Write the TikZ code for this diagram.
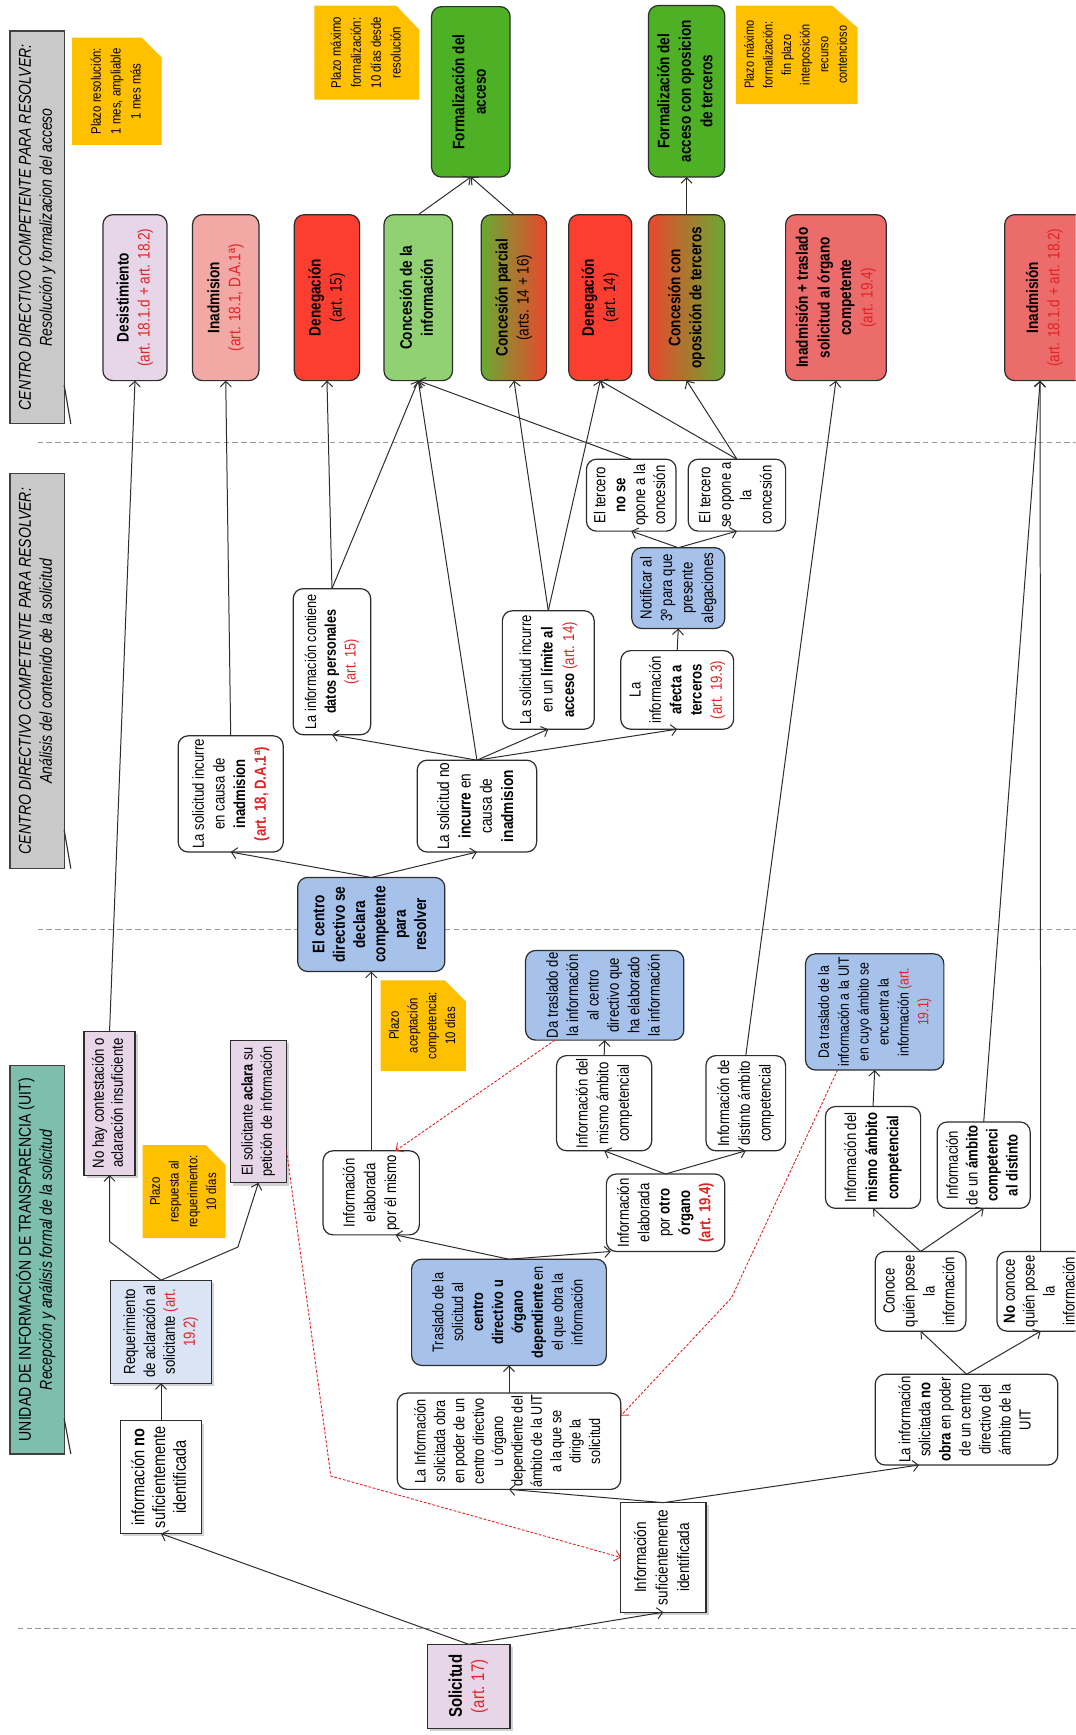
\documentclass[tikz,border=0pt]{standalone}
\usepackage{fontspec}
\setmainfont[FakeStretch=0.82]{Liberation Sans}
\usepackage{graphicx}
\usetikzlibrary{arrows.meta,fit,shadows,calc}
\definecolor{hdrgray}{RGB}{201,201,201}
\definecolor{hdrteal}{RGB}{125,190,172}
\definecolor{noteyel}{RGB}{255,192,0}
\definecolor{dkgreen}{RGB}{78,176,36}
\definecolor{ltgreen}{RGB}{145,208,115}
\definecolor{brred}{RGB}{252,62,48}
\definecolor{pinkbox}{RGB}{242,168,165}
\definecolor{lavbox}{RGB}{231,214,232}
\definecolor{salmon}{RGB}{236,108,108}
\definecolor{bluebox}{RGB}{166,194,234}
\definecolor{ltblue}{RGB}{218,228,245}
\definecolor{artred}{RGB}{225,35,35}
\definecolor{edge}{RGB}{45,45,45}
\definecolor{olivegreen}{RGB}{105,170,50}
\definecolor{gradred}{RGB}{235,70,45}
\newcommand{\rt}[3]{\rotatebox{90}{\fontsize{#1}{#2}\selectfont\begin{tabular}{@{}c@{}}#3\end{tabular}}}
\newcommand{\artx}[1]{\textcolor{artred}{#1}}
% box with text: style, name, corner, corner, text
\newcommand{\bx}[5]{\node[#1, fit={#3 #4}] (#2) {};\node[inner sep=0pt] (#2t) at (#2.center) {#5};}
\tikzset{
  base/.style={draw=edge, line width=1.1pt, inner sep=0pt, outer sep=0pt},
  rbox/.style={base, rounded corners=9pt, fill=white},
  fbox/.style={base, rounded corners=9pt},
  sbox/.style={base, drop shadow={opacity=0.35,shadow xshift=2.5pt,shadow yshift=-2.5pt}},
  hdr/.style={draw=black!75, line width=1pt, inner sep=0pt, outer sep=0pt},
  conn/.style={draw=edge, line width=0.9pt, -{Straight Barb[length=5pt,width=10pt]}},
  redconn/.style={draw=artred, line width=0.8pt, dash pattern=on 2.5pt off 1.5pt, -{Straight Barb[length=5pt,width=10pt]}},
  sep/.style={draw=black!40, line width=0.8pt, dash pattern=on 5pt off 3pt},
  note/.style={fill=noteyel, draw=none},
  tail/.style={draw=edge, line width=1pt}
}
\begin{document}
\begin{tikzpicture}[x=1pt,y=-1pt]
\useasboundingbox (0,0) rectangle (972,1568);
\fill[white] (0,0) rectangle (972,1568);
\clip (0,0) rectangle (972,1568);

% separators
\coordinate (s1a) at (34,400); \coordinate (s1b) at (972,400);
\coordinate (s2a) at (34,840); \coordinate (s2b) at (972,840);
\coordinate (s3a) at (16,1472); \coordinate (s3b) at (972,1472);
\draw[sep] (s1a) -- (s1b);
\draw[sep] (s2a) -- (s2b);
\draw[sep] (s3a) -- (s3b);

% headers
\bx{hdr, fill=hdrgray}{H3}{(9,28)}{(58,383)}{\rt{15.5}{19}{\textit{CENTRO DIRECTIVO COMPETENTE PARA RESOLVER:}\\\textit{Resolución y formalizacion del acceso}}}
\bx{hdr, fill=hdrgray}{H2}{(9,428)}{(58,785)}{\rt{15.5}{19}{\textit{CENTRO DIRECTIVO COMPETENTE PARA RESOLVER:}\\\textit{Análisis del contenido de la solicitud}}}
\bx{hdr, fill=hdrteal}{H1}{(9,963)}{(58,1314)}{\rt{15.5}{19}{UNIDAD DE INFORMACIÓN DE TRANSPARENCIA (UIT)\\\textit{Recepción y análisis formal de la solicitud}}}
\coordinate (t3a) at (58,348); \coordinate (t3b) at (64,383);
\coordinate (t2a) at (58,750); \coordinate (t2b) at (64,785);
\coordinate (t1a) at (58,1282); \coordinate (t1b) at (64,1314);
\draw[tail] (t3a) -- (t3b);
\draw[tail] (t2a) -- (t2b);
\draw[tail] (t1a) -- (t1b);

% notes
\fill[note] (65,34) -- (128,34) -- (146,52) -- (146,131) -- (65,131) -- cycle;
\node (NA) at (105.5,82.5) {\rt{12.5}{18}{Plazo resolución:\\1 mes, ampliable\\1 mes más}};
\fill[note] (284,5) -- (358,5) -- (379,27) -- (379,90) -- (284,90) -- cycle;
\node (NB) at (331.5,47.5) {\rt{12.5}{18}{Plazo máximo\\formalización:\\10 días desde\\resolución}};
\fill[note] (665,5) -- (752,5) -- (775,25) -- (775,94) -- (665,94) -- cycle;
\node (NC) at (720,49.5) {\rt{12}{16.8}{Plazo máximo\\formalización:\\fin plazo\\interposición\\recurso\\contencioso}};
\fill[note] (129,1035) -- (186,1035) -- (204,1053) -- (204,1119) -- (129,1119) -- cycle;
\node (ND) at (166.5,1077) {\rt{12.5}{17}{Plazo\\respuesta al\\requerimiento:\\10 días}};
\fill[note] (344,886) -- (402,886) -- (421,905) -- (421,968) -- (344,968) -- cycle;
\node (NE) at (382.5,927) {\rt{12.5}{17}{Plazo\\aceptación\\competencia:\\10 días}};

% top: formalization
\bx{fbox, fill=dkgreen}{FA}{(390,6)}{(461,160)}{\rt{15}{19.5}{\textbf{Formalización del}\\\textbf{acceso}}}
\bx{fbox, fill=dkgreen}{FO}{(586,5)}{(655,160)}{\rt{15}{19.5}{\textbf{Formalización del}\\\textbf{acceso con oposicion}\\\textbf{de terceros}}}

% outcomes
\bx{fbox, fill=lavbox}{O1}{(93,194)}{(151,344)}{\rt{15}{19}{\textbf{Desistimiento}\\\artx{(art. 18.1.d + art. 18.2)}}}
\bx{fbox, fill=pinkbox}{O2}{(174,194)}{(234,344)}{\rt{15}{19}{\textbf{Inadmision}\\\artx{(art. 18.1, D.A.1ª)}}}
\bx{fbox, fill=brred}{O3}{(266,194)}{(325,344)}{\rt{15}{19}{\textbf{Denegación}\\(art. 15)}}
\bx{fbox, fill=ltgreen}{O4}{(347,194)}{(409,344)}{\rt{15}{19}{\textbf{Concesión de la}\\\textbf{información}}}
\bx{fbox, left color=olivegreen, right color=gradred}{O5}{(435,194)}{(494,344)}{\rt{15}{19}{\textbf{Concesión parcial}\\(arts. 14 + 16)}}
\bx{fbox, fill=brred}{O6}{(514,194)}{(571,344)}{\rt{15}{19}{\textbf{Denegación}\\(art. 14)}}
\bx{fbox, left color=gradred, right color=olivegreen}{O7}{(586,194)}{(655,344)}{\rt{15}{19}{\textbf{Concesión con}\\\textbf{oposición de terceros}}}
\bx{fbox, fill=salmon}{O8}{(710,194)}{(801,344)}{\rt{15}{19.5}{\textbf{Inadmisión + traslado}\\\textbf{solicitud al órgano}\\\textbf{competente}\\\artx{(art. 19.4)}}}
\bx{fbox, fill=salmon}{O9}{(908,194)}{(980,344)}{\rt{15}{19}{\textbf{Inadmisión}\\\artx{(art. 18.1.d + art. 18.2)}}}

% analysis column
\bx{rbox}{C1}{(161,665)}{(256,770)}{\rt{14.5}{18.7}{La solicitud incurre\\en causa de\\\textbf{inadmision}\\\artx{\textbf{(art. 18, D.A.1ª)}}}}
\bx{rbox}{C2}{(377,687)}{(485,770)}{\rt{15}{19.3}{La solicitud no\\\textbf{incurre} en\\causa de\\\textbf{inadmision}}}
\bx{rbox}{C3}{(265,532)}{(335,664)}{\rt{14}{17.8}{La información contiene\\\textbf{datos personales}\\\artx{(art. 15)}}}
\bx{rbox}{C4}{(454,552)}{(537,659)}{\rt{14.5}{19.5}{La solicitud incurre\\en un \textbf{límite al}\\\textbf{acceso} \artx{(art. 14)}}}
\bx{rbox}{C5}{(561,588)}{(663,659)}{\rt{14.5}{18.4}{La\\información\\\textbf{afecta a}\\\textbf{terceros}\\\artx{(art. 19.3)}}}
\bx{fbox, fill=bluebox}{C6}{(571,495)}{(655,568)}{\rt{14.5}{18.5}{Notificar al\\3º para que\\presente\\alegaciones}}
\bx{rbox}{C7}{(530,415)}{(611,480)}{\rt{14.5}{18}{El tercero\\\textbf{no se}\\opone a la\\concesión}}
\bx{rbox}{C8}{(622,415)}{(710,480)}{\rt{14.5}{18.5}{El tercero\\se opone a\\la\\concesión}}

% UIT column
\bx{fbox, fill=bluebox}{B1}{(269,793)}{(402,878)}{\rt{15}{18.4}{\textbf{El centro}\\\textbf{directivo se}\\\textbf{declara}\\\textbf{competente}\\\textbf{para}\\\textbf{resolver}}}
\bx{fbox, fill=bluebox}{B2}{(475,859)}{(618,940)}{\rt{14.5}{18.4}{Da traslado de\\la información\\al centro\\directivo que\\ha elaborado\\la información}}
\bx{rbox}{B3}{(503,954)}{(589,1040)}{\rt{14.5}{18.7}{Información del\\mismo ámbito\\competencial}}
\bx{rbox}{B4}{(638,954)}{(710,1040)}{\rt{14.5}{18.7}{Información de\\distinto ámbito\\competencial}}
\bx{rbox}{B5}{(292,1040)}{(379,1116)}{\rt{14.5}{18.7}{Información\\elaborada\\por él mismo}}
\bx{rbox}{B6}{(548,1061)}{(655,1131)}{\rt{14.5}{18.4}{Información\\elaborada\\por \textbf{otro}\\\textbf{órgano}\\\artx{\textbf{(art. 19.4)}}}}
\bx{fbox, fill=bluebox}{B7}{(372,1138)}{(548,1234)}{\rt{14}{18}{Traslado de la\\solicitud al\\\textbf{centro}\\\textbf{directivo u}\\\textbf{órgano}\\\textbf{dependiente} en\\el que obra la\\información}}
\bx{rbox}{B8}{(359,1259)}{(561,1346)}{\rt{14}{17.5}{La Información\\solicitada obra\\en poder de un\\centro directivo\\u órgano\\dependiente del\\ámbito de la UIT\\a la que se\\dirige la\\solicitud}}
\bx{sbox, fill=white}{B9}{(561,1358)}{(638,1457)}{\rt{15}{19.4}{Información\\suficientemente\\identificada}}
\bx{rbox}{B10}{(791,1242)}{(956,1324)}{\rt{14.5}{18.1}{La información\\solicitada \textbf{no}\\\textbf{obra} en poder\\de un centro\\directivo del\\ámbito de la\\UIT}}
\bx{rbox}{B11}{(791,1131)}{(873,1203)}{\rt{14.5}{18}{Conoce\\quién posee\\la\\información}}
\bx{rbox}{B12}{(901,1131)}{(980,1203)}{\rt{14.5}{18}{\textbf{No} conoce\\quién posee\\la\\información}}
\bx{rbox}{B13}{(746,1000)}{(832,1092)}{\rt{14.5}{19}{Información del\\\textbf{mismo ámbito}\\\textbf{competencial}}}
\bx{rbox}{B14}{(847,1014)}{(931,1092)}{\rt{14.5}{18}{Información\\de un \textbf{ámbito}\\\textbf{competenci}\\\textbf{al distinto}}}
\bx{fbox, fill=bluebox}{B15}{(728,862)}{(853,967)}{\rt{13.5}{18}{Da traslado de la\\información a la UIT\\en cuyo ámbito se\\encuentra la\\información \artx{(art.}\\\artx{19.1)}}}

% left column
\bx{sbox, fill=lavbox}{L1}{(76,932)}{(122,1062)}{\rt{14.5}{17.2}{No hay contestación o\\aclaración insuficiente}}
\bx{sbox, fill=lavbox}{L2}{(208,940)}{(259,1069)}{\rt{14}{17.5}{El solicitante \textbf{aclara} su\\petición de información}}
\bx{sbox, fill=ltblue}{L3}{(100,1157)}{(191,1250)}{\rt{14.5}{18}{Requerimiento\\de aclaración al\\solicitante \artx{(art.}\\\artx{19.2)}}}
\bx{sbox, fill=white}{L4}{(109,1284)}{(182,1386)}{\rt{16}{18.7}{información \textbf{no}\\suficientemente\\identificada}}
\bx{sbox, fill=lavbox}{L5}{(386,1486)}{(461,1562)}{\rt{16.5}{20}{\textbf{Solicitud}\\\artx{(art. 17)}}}

% connectors
\draw[conn] (L5.north) -- (L4.south);
\draw[conn] (L5.north) -- (B9.south);
\draw[conn] (L4.north) -- (L3.south);
\coordinate (k1) at (99,1122);
\coordinate (k2) at (215,1127);
\draw[conn] (L3.north) -- (k1) -- (L1.south);
\draw[conn] (L3.north) -- (k2) -- (L2.south);
\draw[conn] (L1.north) -- (O1.south);
\coordinate (r1) at (299,1334);
\draw[redconn] ($(L2.south east)+(0,-29)$) -- (r1) -- (B9.west);
\draw[conn] (B9.north) -- (B8.south);
\draw[conn] (B9.north) -- ($(B10.south)+(-43,0)$);
\draw[conn] (B8.north) -- (B7.south);
\draw[conn] (B7.north) -- ($(B5.south)+(22,0)$);
\draw[conn] (B7.north) -- ($(B6.south west)+(4,0)$);
\draw[conn] (B6.north) -- (B3.south);
\draw[conn] (B6.north) -- (B4.south);
\draw[conn] (B3.north) -- (B2.south);
\draw[redconn] ($(B2.south)+(-45,0)$) -- ($(B5.north)+(22,0)$);
\draw[conn] (B4.north) -- (O8.south);
\draw[conn] (B5.north) -- (B1.south);
\draw[conn] (B1.north) -- (C1.south);
\draw[conn] (B1.north) -- (C2.south);
\draw[conn] (C1.north) -- (O2.south);
\draw[conn] (C2.north) -- (C3.south);
\draw[conn] (C2.north) -- (O4.south);
\draw[conn] (C2.north) -- (C4.south);
\draw[conn] (C2.north) -- (C5.south);
\draw[conn] (C3.north) -- (O3.south);
\draw[conn] (C3.north) -- (O4.south);
\draw[conn] (C4.north) -- (O5.south);
\draw[conn] (C4.north) -- (O6.south);
\draw[conn] (C5.north) -- (C6.south);
\draw[conn] (C6.north) -- (C7.south);
\draw[conn] (C6.north) -- (C8.south);
\draw[conn] (C7.north) -- (O4.south);
\draw[conn] (C8.north) -- (O6.south);
\draw[conn] (C8.north) -- (O7.south);
\draw[conn] (O4.north) -- (FA.south);
\draw[conn] (O5.north) -- (FA.south);
\draw[conn] (O7.north) -- (FO.south);
\draw[conn] (B10.north) -- (B11.south);
\draw[conn] (B10.north) -- (B12.south);
\draw[conn] (B11.north) -- (B13.south);
\draw[conn] (B11.north) -- (B14.south);
\draw[conn] (B13.north) -- (B15.south);
\draw[conn] (B14.north) -- ($(O9.south)+(-4,0)$);
\draw[conn] (B12.north) -- ($(O9.south)+(-4,0)$);
\coordinate (r2) at (661,1173);
\draw[redconn] ($(B15.south west)+(29,0)$) -- (r2) -- ($(B8.east)+(0,-23)$);
\end{tikzpicture}
\end{document}
